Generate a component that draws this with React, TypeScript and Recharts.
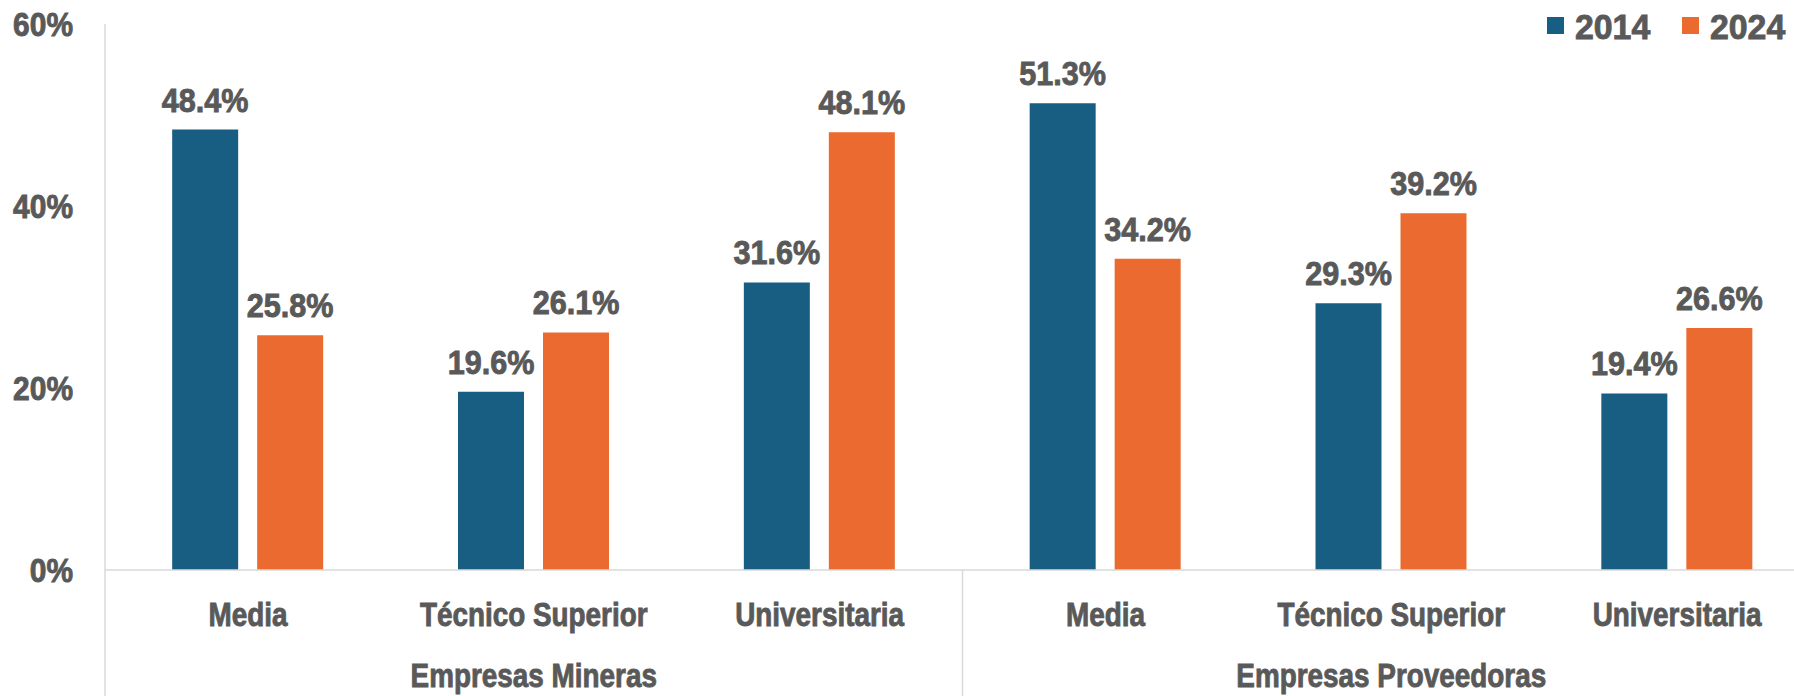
import React from 'react'
import { BarChart, Bar, XAxis, YAxis, LabelList } from 'recharts'

const grupos = ['Empresas Mineras', 'Empresas Mineras', 'Empresas Mineras', 'Empresas Proveedoras', 'Empresas Proveedoras', 'Empresas Proveedoras']
const niveles = ['Media', 'Técnico Superior', 'Universitaria', 'Media', 'Técnico Superior', 'Universitaria']
const valores2014 = [48.4, 19.6, 31.6, 51.3, 29.3, 19.4]
const valores2024 = [25.8, 26.1, 48.1, 34.2, 39.2, 26.6]
const yTicks = [0, 20, 40, 60]
const series = [
  { key: 'y2014', label: '2014', color: '#175e82' },
  { key: 'y2024', label: '2024', color: '#ea6a2f' },
]

const data = niveles.map((nivel, i) => ({
  nivel,
  grupo: grupos[i],
  y2014: valores2014[i],
  y2024: valores2024[i],
}))

const TEXT = '#595959'
const LINE = '#d9d9d9'
const FONT = "'Liberation Sans', Arial, sans-serif"

// layout
const CHART_W = 1830
const CHART_H = 696
const Y_AXIS_W = 105
const RIGHT = 10
const PLOT_W = CHART_W - Y_AXIS_W - RIGHT
const BASE_Y = 570

const pct = (v: number) => `${v}%`

// bold condensed-looking text (horizontal squeeze of Liberation Sans Bold, a bit of stroke for weight)
function CondText({ x, y, sx, size = 34, anchor = 'middle', children }: any) {
  return (
    <text
      transform={`translate(${x},${y}) scale(${sx},1)`}
      textAnchor={anchor}
      fill={TEXT}
      stroke={TEXT}
      strokeWidth={0.9}
      fontSize={size}
      fontWeight="bold"
      fontFamily={FONT}
    >
      {children}
    </text>
  )
}

function YTick(props: any) {
  const { x, y, payload } = props
  return <CondText x={x} y={y + 12} sx={0.88} anchor="end">{pct(payload.value)}</CondText>
}

function NivelTick(props: any) {
  const { x, y, payload } = props
  return <CondText x={x} y={y + 24} sx={0.82}>{payload.value}</CondText>
}

function GrupoTick(props: any) {
  const { x, y, payload, index } = props
  const half = PLOT_W / 4
  return (
    <g>
      {index === 0 && (
        <>
          <line x1={x - half} x2={x - half} y1={BASE_Y} y2={CHART_H} stroke={LINE} strokeWidth={1.5} />
          <line x1={x + half} x2={x + half} y1={BASE_Y} y2={CHART_H} stroke={LINE} strokeWidth={1.5} />
        </>
      )}
      <CondText x={x} y={y + 24} sx={0.82}>{payload.value}</CondText>
    </g>
  )
}

function BarLabel(props: any) {
  const { x, y, width, value } = props
  return <CondText x={x + width / 2} y={y - 18} sx={0.9}>{`${Number(value).toFixed(1)}%`}</CondText>
}

function LegendBox() {
  const starts = [1547, 1682]
  return (
    <svg width={1794} height={60} style={{ position: 'absolute', left: 0, top: 0 }}>
      {series.map((s, i) => (
        <g key={s.key}>
          <rect x={starts[i]} y={17} width={17} height={17} fill={s.color} />
          <CondText x={starts[i] + 28} y={39} sx={0.94} size={36} anchor="start">{s.label}</CondText>
        </g>
      ))}
    </svg>
  )
}

export default function App() {
  return (
    <div style={{ position: 'absolute', left: 0, top: 0, width: 1794, height: 696, overflow: 'hidden', background: '#fff' }}>
      <BarChart
        width={CHART_W}
        height={CHART_H}
        data={data}
        margin={{ top: 24, right: RIGHT, left: 0, bottom: 0 }}
        barCategoryGap="23.5%"
        barGap={19}
      >
        <YAxis
          width={Y_AXIS_W}
          domain={[0, 60]}
          ticks={yTicks}
          axisLine={{ stroke: LINE, strokeWidth: 1.5 }}
          tickLine={false}
          tickSize={0}
          tickMargin={32}
          tick={<YTick />}
        />
        <XAxis
          dataKey="nivel"
          height={70}
          axisLine={{ stroke: LINE, strokeWidth: 1.5 }}
          tickLine={false}
          tickSize={0}
          tickMargin={32}
          interval={0}
          tick={<NivelTick />}
        />
        <XAxis
          xAxisId="grupo"
          dataKey="grupo"
          allowDuplicatedCategory={false}
          height={56}
          axisLine={false}
          tickLine={false}
          tickSize={0}
          tickMargin={23}
          interval={0}
          tick={<GrupoTick />}
        />
        {series.map((s) => (
          <Bar key={s.key} dataKey={s.key} name={s.label} fill={s.color} isAnimationActive={false}>
            <LabelList dataKey={s.key} content={<BarLabel />} />
          </Bar>
        ))}
      </BarChart>
      <LegendBox />
    </div>
  )
}
